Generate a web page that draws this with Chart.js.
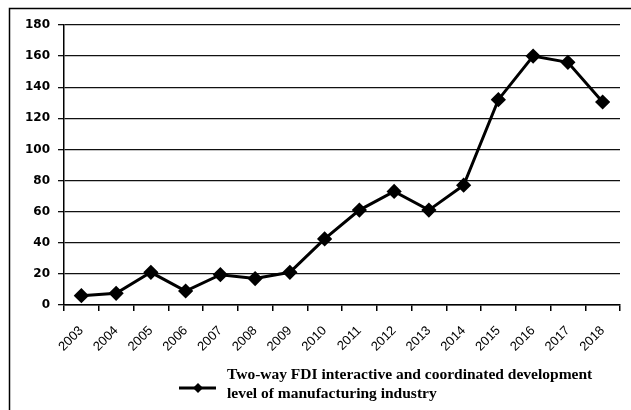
<!DOCTYPE html>
<html>
<head>
<meta charset="utf-8">
<script src="https://cdn.jsdelivr.net/npm/chart.js@4/dist/chart.umd.min.js"></script>
<style>
   html, body { margin: 0; padding: 0; background: #fff; }
   #wrap { position: relative; width: 631px; height: 410px; }
</style>
</head>
<body>
<div id="wrap"><canvas id="chartCanvas" width="631" height="410"></canvas></div>
<script>
const YEARS      = ['2003', '2004', '2005', '2006', '2007', '2008', '2009', '2010',
                    '2011', '2012', '2013', '2014', '2015', '2016', '2017', '2018'];
const FDI_LEVEL  = [6, 7.5, 21, 9, 19.5, 17, 21, 42.5, 61, 73, 61, 77, 132, 160, 156, 130.5];
const Y_TICKS    = [0, 20, 40, 60, 80, 100, 120, 140, 160, 180];
const SERIES_LABEL = ['Two-way FDI interactive and coordinated development',
                      'level of manufacturing industry'];

// frame (top + left border) and legend underneath the axis labels
var framePlugin = {
   id: 'frame',
   beforeDraw: function (chart) {
      var ctx = chart.ctx;
      ctx.save();
      ctx.fillStyle = '#fff';
      ctx.fillRect(0, 0, chart.width, chart.height);
      ctx.strokeStyle = '#000';
      ctx.lineWidth = 1.5;
      ctx.beginPath();
      ctx.moveTo(9.5, 410);
      ctx.lineTo(9.5, 8.5);
      ctx.lineTo(631, 8.5);
      ctx.stroke();
      ctx.restore();
   },
   afterDraw: function (chart) {
      var ctx = chart.ctx;
      var ds = chart.data.datasets[0];
      ctx.save();
      ctx.strokeStyle = '#000';
      ctx.lineWidth = 3;
      ctx.beginPath();
      ctx.moveTo(179, 388);
      ctx.lineTo(216, 388);
      ctx.stroke();
      ctx.fillStyle = '#000';
      ctx.beginPath();
      ctx.moveTo(198, 383);
      ctx.lineTo(203, 388);
      ctx.lineTo(198, 393);
      ctx.lineTo(193, 388);
      ctx.closePath();
      ctx.fill();
      ctx.font = 'bold 15.5px "Liberation Serif", "DejaVu Serif", serif';
      ctx.textBaseline = 'middle';
      ctx.fillText(ds.legendLines[0], 227, 375);
      ctx.fillText(ds.legendLines[1], 227, 394);
      ctx.restore();
   }
};

var chartConfig = {
   type: 'line',
   data: {
      labels: YEARS,
      datasets: [{
         label: SERIES_LABEL.join(' '),
         legendLines: SERIES_LABEL,
         data: FDI_LEVEL,
         borderColor: '#000',
         backgroundColor: '#000',
         borderWidth: 3,
         pointStyle: 'rectRot',
         pointRadius: 5.5,
         pointHoverRadius: 5.5,
         tension: 0
      }]
   },
   options: {
      responsive: false,
      animation: false,
      layout: { padding: { left: 0, top: 25, right: 11, bottom: 0 } },
      scales: {
         x: {
            offset: true,
            grid: {
               offset: true,
               drawOnChartArea: false,
               drawTicks: true,
               tickLength: 6,
               color: '#000',
               lineWidth: 1.5
            },
            border: { display: true, color: '#000', width: 1.5 },
            ticks: {
               autoSkip: false,
               maxRotation: 45,
               minRotation: 45,
               color: '#000',
               padding: 12,
               font: { family: '"Liberation Sans", Arial, sans-serif', size: 13 }
            },
            afterFit: function (scale) { scale.height = 105; }
         },
         y: {
            min: 0,
            max: 180,
            afterBuildTicks: function (scale) {
               scale.ticks = Y_TICKS.map(v => ({ value: v }));
            },
            grid: {
               color: '#111',
               lineWidth: 1.3,
               tickLength: 6
            },
            border: { display: true, color: '#000', width: 1.5 },
            ticks: {
               color: '#000',
               padding: 8,
               font: { family: '"DejaVu Sans", Verdana, sans-serif', size: 12, weight: 'bold' }
            },
            afterFit: function (scale) { scale.width = 64; }
         }
      },
      plugins: {
         legend: { display: false },
         tooltip: { enabled: false }
      }
   },
   plugins: [framePlugin]
};

new Chart(document.getElementById('chartCanvas'), chartConfig);
</script>
</body>
</html>
